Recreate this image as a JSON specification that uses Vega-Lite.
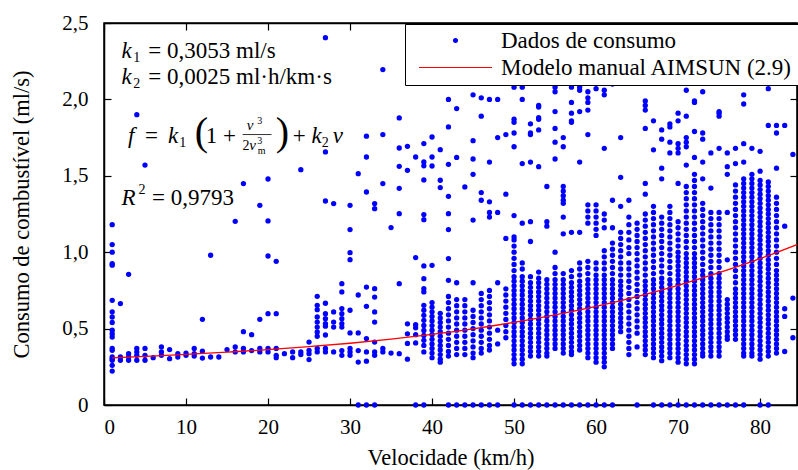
{
"$schema":"https://vega.github.io/schema/vega-lite/v6.json",
"width":693,"height":382,
"autosize":{"type":"none"},
"padding":{"left":104,"top":23,"right":1,"bottom":65},
"background":"white",
"datasets":{
"pts":[
{"v":1,"c":[1.18,1.05,1.0,0.925,0.915,0.685,0.61,0.576,0.54,0.49,0.467,0.445,0.37,0.358,0.314,0.303,0.293,0.26,0.222]},
{"v":2,"c":[0.664,0.314,0.293]},
{"v":3,"c":[0.855,0.336,0.314,0.293]},
{"v":4,"c":[1.9,0.37,0.347,0.325,0.293]},
{"v":5,"c":[1.57,0.37,0.325,0.293]},
{"v":6,"c":[0.31]},
{"v":7,"c":[0.38,0.347,0.325]},
{"v":8,"c":[0.363,0.303]},
{"v":9,"c":[0.336,0.314]},
{"v":10,"c":[0.34,0.325]},
{"v":11,"c":[0.37,0.336,0.32]},
{"v":12,"c":[0.561,0.352,0.307]},
{"v":13,"c":[0.98,0.314]},
{"v":14,"c":[0.314]},
{"v":15,"c":[0.363]},
{"v":16,"c":[1.202,0.38,0.347]},
{"v":17,"c":[1.449,0.48,0.37,0.347]},
{"v":18,"c":[0.46,0.356]},
{"v":19,"c":[1.307,0.561,0.37,0.347]},
{"v":20,"c":[1.479,1.205,0.975,0.598,0.37,0.347]},
{"v":21,"c":[0.94,0.598,0.37,0.325,0.31]},
{"v":22,"c":[0.336]},
{"v":23,"c":[0.347,0.31]},
{"v":24,"c":[1.54,0.347,0.33]},
{"v":25,"c":[0.412,0.358,0.336,0.297]},
{"v":26,"c":[0.711,0.652,0.624,0.576,0.543,0.51,0.478,0.45,0.37,0.347]},
{"v":27,"c":[2.404,1.656,1.335,0.666,0.598,0.565,0.533,0.516,0.458,0.37,0.347]},
{"v":28,"c":[1.318,0.609,0.543,0.51,0.347]},
{"v":29,"c":[0.794,0.74,0.631,0.598,0.565,0.533,0.51,0.356,0.325]},
{"v":30,"c":[1.307,1.148,0.997,0.951,0.62,0.472,0.37,0.347,0.325]},
{"v":31,"c":[1.514,0.72,0.472,0.356,0.281,0]},
{"v":32,"c":[1.759,1.623,1.394,0.772,0.646,0.435,0.347,0.287,0]},
{"v":33,"c":[1.318,1.285,0.761,0.706,0.609,0.543,0.412,0.347,0.325,0]},
{"v":34,"c":[2.195,1.77,1.449,0.37,0.347]},
{"v":35,"c":[1.161,0.34]},
{"v":36,"c":[1.879,1.682,1.562,1.418,1.252,0.794,0.336]},
{"v":37,"c":[1.693,1.536,0.531,0.466,0.403,0.3]},
{"v":38,"c":[1.623,0.965,0.526,0.505,0.46,0.406,0]},
{"v":39,"c":[1.711,1.591,1.565,1.473,1.246,1.213,0.91,0.827,0.761,0.74,0.652,0.62,0.587,0.554,0.521,0.488,0.455,0.423,0.39,0.347,0]},
{"v":40,"c":[1.754,1.623,1.564,0.914,0.67,0.64,0.61,0.58,0.55,0.52,0.49,0.46,0.43,0.40,0.37,0.34,0.31]},
{"v":41,"c":[1.671,1.471,1.423,0.60,0.57,0.54,0.51,0.48,0.45,0.42,0.39,0.36,0.33,0.30,0.28]},
{"v":42,"c":[2.0,1.82,1.575,1.366,1.252,1.148,0.958,0.816,0.71,0.67,0.63,0.59,0.55,0.51,0.47,0.43,0.39,0.35,0.32,0]},
{"v":43,"c":[1.94,1.62,0.80,0.69,0.65,0.61,0.57,0.53,0.49,0.45,0.41,0.37,0.33,0]},
{"v":44,"c":[1.427,0.69,0.65,0.61,0.57,0.53,0.49,0.45,0.41,0.37,0.33,0]},
{"v":45,"c":[2.03,1.73,1.61,1.51,1.21,0.80,0.62,0.58,0.54,0.50,0.46,0.42,0.38,0.34,0.31,0]},
{"v":46,"c":[2.01,1.89,1.39,1.34,0.73,0.69,0.65,0.61,0.57,0.53,0.49,0.45,0.41,0.37,0.34,0]},
{"v":47,"c":[2.0,1.59,1.33,1.26,1.23,0.75,0.71,0.67,0.63,0.59,0.55,0.51,0.47,0.43,0.39,0.36,0]},
{"v":48,"c":[2.0,1.75,1.26,0.80,0.49,0.40,0]},
{"v":49,"c":[1.77,1.38,1.09,0.76,0.72,0.68,0.64,0.60,0.56,0.52,0.48,0.44]},
{"v":50,"c":[2.08,1.87,1.85,1.78,1.69,1.24,1.10,1.08,1.04,1.0,0.96,0.92,0.88,0.84,0.81,0.78,0.75,0.72,0.69,0.66,0.63,0.60,0.57,0.54,0.51,0.48,0.45,0.42,0.39,0.36,0.33,0.30,0.27,0]},
{"v":51,"c":[2.08,2.0,1.58,1.19,0.93,0.89,0.84,0.81,0.78,0.75,0.72,0.69,0.66,0.63,0.60,0.57,0.54,0.51,0.48,0.45,0.42,0.39,0.36,0.33,0.30,0.27,0]},
{"v":52,"c":[1.84,1.78,1.77,1.59,1.20,1.07,0.84,0.80,0.77,0.74,0.71,0.68,0.65,0.62,0.59,0.56,0.53,0.50,0.47,0.44,0.41,0.38,0.35,0.32,0]},
{"v":53,"c":[1.96,1.95,1.88,1.87,1.80,1.56,0.87,0.83,0.80,0.77,0.74,0.71,0.68,0.65,0.62,0.59,0.56,0.53,0.50,0.47,0.44,0.41,0.38,0.35,0.32,0]},
{"v":54,"c":[1.43,1.20,1.17,0.82,0.79,0.76,0.73,0.70,0.67,0.64,0.61,0.58,0.55,0.52,0.49,0.46,0.43,0.40,0.37,0.34,0.32,0]},
{"v":55,"c":[2.08,2.05,1.92,1.81,1.72,1.61,1.00,0.90,0.86,0.82,0.79,0.76,0.73,0.70,0.67,0.64,0.61,0.58,0.55,0.52,0.49,0.46,0.43,0.40,0.37,0]},
{"v":56,"c":[1.75,1.69,1.43,1.40,1.37,1.34,1.32,1.23,1.12,0.86,0.82,0.79,0.76,0.73,0.70,0.67,0.64,0.61,0.58,0.55,0.52,0.49,0.46,0.43,0.40,0.37,0.34,0]},
{"v":57,"c":[2.08,1.98,1.91,1.86,1.85,1.13,0.88,0.84,0.80,0.77,0.74,0.71,0.68,0.65,0.62,0.59,0.56,0.53,0.50,0.47,0.44,0.41,0.38,0.35,0.33,0]},
{"v":58,"c":[2.08,2.06,1.92,1.59,1.13,0.93,0.89,0.85,0.81,0.78,0.75,0.72,0.69,0.66,0.63,0.60,0.57,0.54,0.51,0.48,0.45,0.42,0.39,0.36,0]},
{"v":59,"c":[2.05,2.01,1.98,1.93,1.77,1.31,1.27,1.23,1.19,0.94,0.90,0.86,0.82,0.79,0.76,0.73,0.70,0.67,0.64,0.61,0.58,0.55,0.52,0.49,0.46,0.43,0.40,0.37,0.34,0.31,0]},
{"v":60,"c":[2.07,1.31,1.27,1.23,1.19,1.15,1.11,0.93,0.89,0.85,0.82,0.79,0.76,0.73,0.70,0.67,0.64,0.61,0.58,0.55,0.52,0.49,0.46,0.43,0.40,0.37,0.34,0.31,0.28,0]},
{"v":61,"c":[2.06,2.03,1.68,1.25,1.21,1.16,1.01,0.97,0.93,0.89,0.85,0.82,0.79,0.76,0.73,0.70,0.67,0.64,0.61,0.58,0.55,0.52,0.49,0.46,0.43,0.40,0.37,0.34,0.31,0.28,0.25,0]},
{"v":62,"c":[2.10,1.34,1.16,1.06,1.02,0.98,0.94,0.90,0.86,0.82,0.79,0.76,0.73,0.70,0.67,0.64,0.61,0.58,0.55,0.52,0.49,0.46,0.43,0.40,0.37,0]},
{"v":63,"c":[1.75,1.49,1.30,1.13,1.09,1.05,1.01,0.97,0.93,0.89,0.85,0.81,0.78,0.75,0.72,0.69,0.66,0.63,0.60,0.57,0.54,0.51,0.48]},
{"v":64,"c":[1.34,1.23,1.18,1.13,1.08,1.03,0.99,0.93,0.89,0.85,0.81,0.77,0.73,0.69,0.65,0.61,0.57,0.53,0.49,0.45,0.41,0.37,0.33]},
{"v":65,"c":[1.19,1.15,1.11,1.07,1.03,0.99,0.95,0.91,0.87,0.83,0.79,0.75,0.71,0.67,0.63,0.59,0.55,0.51,0.47,0.38,0]},
{"v":66,"c":[1.99,1.96,1.93,1.81,1.45,1.38,1.25,1.21,1.17,1.13,1.09,1.05,1.01,0.97,0.93,0.89,0.85,0.81,0.78,0.75,0.72,0.69,0.66,0.63,0.60,0.57,0.54,0.51,0.48,0.45,0.42,0.39,0.36,0.33]},
{"v":67,"c":[1.86,1.67,1.30,1.26,1.22,1.18,1.14,1.10,1.06,1.02,0.98,0.94,0.90,0.86,0.82,0.79,0.76,0.73,0.70,0.67,0.64,0.61,0.58,0.55,0.52,0.49,0.46,0.43,0.40,0.37,0.34,0.31,0]},
{"v":68,"c":[1.80,1.74,1.55,1.48,1.23,1.19,1.15,1.11,1.07,1.03,0.99,0.95,0.91,0.87,0.83,0.80,0.77,0.74,0.71,0.68,0.65,0.62,0.59,0.56,0.53,0.50,0.47,0.44,0.41,0.38,0.35,0.32,0.29,0]},
{"v":69,"c":[1.84,1.82,1.72,1.65,1.30,1.26,1.22,1.18,1.14,1.10,1.06,1.02,0.98,0.94,0.90,0.86,0.82,0.79,0.76,0.73,0.70,0.67,0.64,0.61,0.58,0.55,0.52,0.49,0.46,0.43,0.40,0.37,0.34,0.31,0]},
{"v":70,"c":[1.91,1.86,1.71,1.68,1.65,1.45,1.20,1.16,1.12,1.08,1.04,1.00,0.97,0.94,0.91,0.88,0.85,0.82,0.79,0.76,0.73,0.70,0.67,0.64,0.61,0.58,0.55,0.52,0.49,0.46,0.43,0.40,0.37,0.34,0.31,0.28,0]},
{"v":71,"c":[2.06,1.89,1.75,1.72,1.69,1.57,1.43,1.39,1.35,1.31,1.27,1.23,1.19,1.15,1.11,1.07,1.03,0.99,0.96,0.93,0.90,0.87,0.84,0.81,0.78,0.75,0.72,0.69,0.66,0.63,0.60,0.57,0.54,0.51,0.48,0.45,0.42,0.39,0.36,0.33,0.30,0.27,0]},
{"v":72,"c":[1.99,1.98,1.79,1.62,1.51,1.47,1.43,1.39,1.35,1.31,1.27,1.23,1.19,1.15,1.11,1.07,1.03,0.99,0.96,0.93,0.90,0.87,0.84,0.81,0.78,0.75,0.72,0.69,0.66,0.63,0.60,0.57,0.54,0.51,0.48,0.45,0.42,0.39,0.36,0.33,0.30,0.27,0]},
{"v":73,"c":[2.05,1.78,1.74,1.59,1.48,1.32,1.28,1.24,1.20,1.16,1.12,1.08,1.04,1.00,0.96,0.92,0.88,0.85,0.82,0.79,0.76,0.73,0.70,0.67,0.64,0.61,0.58,0.55,0.52,0.49,0.46,0.43,0.40,0.37,0.34,0.32,0]},
{"v":74,"c":[1.65,1.42,1.26,1.22,1.18,1.14,1.10,1.06,1.02,0.98,0.94,0.90,0.86,0.83,0.80,0.77,0.74,0.71,0.68,0.65,0.62,0.59,0.56,0.53,0.50,0.47,0.44,0.41,0.38,0.35,0.32,0]},
{"v":75,"c":[1.92,1.91,1.89,1.68,1.26,1.22,1.18,1.14,1.10,1.06,1.02,0.98,0.94,0.90,0.86,0.83,0.80,0.77,0.74,0.71,0.68,0.65,0.62,0.59,0.56,0.53,0.50,0.47,0.44,0.41,0.38,0.35,0.32,0]},
{"v":76,"c":[1.65,1.56,1.51,1.26,0.95,0.69,0.66,0.63,0.60,0.57,0.54,0.51,0.48,0.45,0.43,0]},
{"v":77,"c":[1.68,1.58,1.44,1.40,1.36,1.32,1.28,1.24,1.20,1.16,1.12,1.08,1.04,1.00,0.96,0.92,0.88,0.84,0.80,0.76,0.73,0.70,0.67,0.64,0.61,0.58,0.55,0.52,0.49,0.46,0.43,0]},
{"v":78,"c":[2.03,1.97,1.71,1.59,1.48,1.45,1.42,1.39,1.36,1.33,1.30,1.27,1.24,1.21,1.18,1.15,1.12,1.09,1.06,1.03,1.00,0.97,0.94,0.91,0.88,0.85,0.82,0.79,0.76,0.73,0.70,0.67,0.64,0.61,0.58,0.55,0.52,0.49,0.46,0.43,0.40,0.37,0.34,0.32,0]},
{"v":79,"c":[1.68,1.51,1.48,1.45,1.42,1.39,1.36,1.33,1.30,1.27,1.24,1.21,1.18,1.15,1.12,1.09,1.06,1.03,1.00,0.97,0.94,0.91,0.88,0.85,0.82,0.79,0.76,0.73,0.70,0.67,0.64,0.61,0.58,0.55,0.52,0.49,0.46,0.43,0.40,0.37,0.34,0.32]},
{"v":80,"c":[1.66,1.53,1.47,1.44,1.41,1.38,1.35,1.32,1.29,1.26,1.23,1.20,1.17,1.14,1.11,1.08,1.05,1.02,0.99,0.96,0.93,0.90,0.87,0.84,0.81,0.78,0.75,0.72,0.69,0.66,0.63,0.60,0.57,0.54,0.51,0.48,0.45,0.42,0.39,0.36,0.33,0.30,0]},
{"v":81,"c":[2.07,1.83,1.46,1.43,1.40,1.37,1.34,1.31,1.28,1.25,1.22,1.19,1.16,1.13,1.10,1.07,1.04,1.01,0.98,0.95,0.92,0.89,0.86,0.83,0.80,0.77,0.74,0.71,0.68,0.65,0.62,0.59,0.56,0.53,0.50,0.47,0.44,0.41,0.38,0.35,0.32,0]},
{"v":82,"c":[1.83,1.78,1.55,1.36,1.32,1.28,1.24,1.20,1.16,1.12,1.08,1.04,1.00,0.96,0.92,0.88,0.85,0.82,0.79,0.76,0.73,0.70,0.67,0.64,0.61,0.58,0.55,0.52,0.49,0.46,0.43,0.40,0.37,0.34]},
{"v":83,"c":[1.83,1.17,0.63,0.58,0.35]},
{"v":84,"c":[1.64,0.70,0.44]}
],
"model":[{"v":1,"f":0.308},{"v":5,"f":0.318},{"v":10,"f":0.331},{"v":15,"f":0.346},{"v":20,"f":0.362},{"v":25,"f":0.382},{"v":30,"f":0.404},{"v":35,"f":0.431},{"v":40,"f":0.462},{"v":45,"f":0.498},{"v":50,"f":0.541},{"v":55,"f":0.59},{"v":60,"f":0.646},{"v":65,"f":0.71},{"v":70,"f":0.783},{"v":75,"f":0.866},{"v":80,"f":0.958},{"v":84.5,"f":1.05}],
"r23":[{"x":5.4,"y":2.272,"t":"= 0,3053 ml/s"},{"x":5.4,"y":2.102,"t":"= 0,0025 ml·h/km·s"},{"x":4.99,"y":1.716,"t":"="},{"x":12.42,"y":1.716,"t":"1 +"},{"x":23.0,"y":1.716,"t":"+"},{"x":5.85,"y":1.307,"t":"= 0,9793"}],
"i23":[{"x":2.13,"y":2.272,"t":"k"},{"x":2.13,"y":2.102,"t":"k"},{"x":2.92,"y":1.716,"t":"f"},{"x":7.8,"y":1.716,"t":"k"},{"x":25.3,"y":1.716,"t":"k"},{"x":27.9,"y":1.716,"t":"v"},{"x":2.13,"y":1.307,"t":"R"}],
"r14":[{"x":3.57,"y":2.245,"t":"1"},{"x":3.57,"y":2.075,"t":"2"},{"x":9.17,"y":1.689,"t":"1"},{"x":26.55,"y":1.689,"t":"2"},{"x":4.2,"y":1.383,"t":"2"},{"x":16.89,"y":1.667,"t":"2"}],
"i14":[{"x":17.42,"y":1.798,"t":"v"},{"x":17.72,"y":1.667,"t":"v"}],
"r10":[{"x":18.7,"y":1.837,"t":"3"},{"x":18.7,"y":1.706,"t":"3"},{"x":18.76,"y":1.641,"t":"m"}],
"par":[{"x":11.08,"y":1.7,"t":"("},{"x":20.95,"y":1.7,"t":")"}],
"bar":[{"x":16.9,"x2":20.43,"y":1.77}]
},
"resolve":{"axis":{"x":"independent","y":"independent"}},
"layer":[
{"data":{"name":"pts"},"transform":[{"flatten":["c"]}],
"mark":{"type":"circle","size":28,"opacity":1},
"encoding":{
"x":{"field":"v","type":"quantitative","scale":{"domain":[0,84.5],"nice":false,"zero":false},
"axis":{"values":[0,10,20,30,40,50,60,70,80],"title":"Velocidade (km/h)","labelPadding":18,"titlePadding":9}},
"y":{"field":"c","type":"quantitative","scale":{"domain":[0,2.5],"nice":false},
"axis":{"values":[0,0.5,1,1.5,2,2.5],"title":"Consumo de combustível (ml/s)","labelPadding":23,"titlePadding":28,"labelExpr":"datum.value == 0 ? '0' : replace(format(datum.value, '.1f'), '.', ',')"}},
"color":{"datum":"Dados de consumo","type":"nominal",
"scale":{"domain":["Dados de consumo","Modelo manual AIMSUN (2.9)"],"range":["#0000ff","#ff0000"]},
"legend":{"orient":"none","legendX":301,"legendY":1,"title":null,"strokeColor":"black","fillColor":"white","padding":5,
"labelFont":"Liberation Serif","labelFontSize":23,"labelColor":"black","labelLimit":0,
"symbolSize":100,"symbolOffset":34,"labelOffset":34,"rowPadding":3,
"encoding":{"symbols":{
"shape":{"value":{"expr":"datum.value === 'Dados de consumo' ? 'circle' : 'M-7.3,0H7.3'"}},
"size":{"value":{"expr":"datum.value === 'Dados de consumo' ? 16 : 100"}},
"fill":{"value":{"expr":"datum.value === 'Dados de consumo' ? '#0000ff' : 'transparent'"}},
"stroke":{"value":{"expr":"datum.value === 'Dados de consumo' ? '#0000ff' : '#ff0000'"}},
"strokeWidth":{"value":1.2},"opacity":{"value":1}}}}}
}},
{"data":{"name":"model"},
"mark":{"type":"line","strokeWidth":1.3,"interpolate":"monotone","color":"#ff0000"},
"encoding":{
"x":{"field":"v","type":"quantitative","axis":{"orient":"top","values":[0,10,20,30,40,50,60,70,80],"labels":false,"title":null}},
"y":{"field":"f","type":"quantitative","axis":{"orient":"right","values":[0,0.5,1,1.5,2,2.5],"labels":false,"title":null}}}},
{"data":{"name":"r23"},"mark":{"type":"text","align":"left","baseline":"alphabetic","font":"Liberation Serif","fontSize":23,"color":"black"},
"encoding":{"x":{"field":"x","type":"quantitative","axis":null},"y":{"field":"y","type":"quantitative","axis":null},"text":{"field":"t"}}},
{"data":{"name":"i23"},"mark":{"type":"text","align":"left","baseline":"alphabetic","font":"Liberation Serif","fontStyle":"italic","fontSize":23,"color":"black"},
"encoding":{"x":{"field":"x","type":"quantitative","axis":null},"y":{"field":"y","type":"quantitative","axis":null},"text":{"field":"t"}}},
{"data":{"name":"r14"},"mark":{"type":"text","align":"left","baseline":"alphabetic","font":"Liberation Serif","fontSize":14,"color":"black"},
"encoding":{"x":{"field":"x","type":"quantitative","axis":null},"y":{"field":"y","type":"quantitative","axis":null},"text":{"field":"t"}}},
{"data":{"name":"i14"},"mark":{"type":"text","align":"left","baseline":"alphabetic","font":"Liberation Serif","fontStyle":"italic","fontSize":15,"color":"black"},
"encoding":{"x":{"field":"x","type":"quantitative","axis":null},"y":{"field":"y","type":"quantitative","axis":null},"text":{"field":"t"}}},
{"data":{"name":"r10"},"mark":{"type":"text","align":"left","baseline":"alphabetic","font":"Liberation Serif","fontSize":10,"color":"black"},
"encoding":{"x":{"field":"x","type":"quantitative","axis":null},"y":{"field":"y","type":"quantitative","axis":null},"text":{"field":"t"}}},
{"data":{"name":"par"},"mark":{"type":"text","align":"left","baseline":"alphabetic","font":"Liberation Serif","fontSize":40,"color":"black"},
"encoding":{"x":{"field":"x","type":"quantitative","axis":null},"y":{"field":"y","type":"quantitative","axis":null},"text":{"field":"t"}}},
{"data":{"name":"bar"},"mark":{"type":"rule","color":"black","strokeWidth":0.8},
"encoding":{"x":{"field":"x","type":"quantitative","axis":null},"x2":{"field":"x2"},"y":{"field":"y","type":"quantitative","axis":null}}}
],
"config":{
"view":{"stroke":"black","strokeWidth":1.5},
"font":"Liberation Serif",
"axis":{"labelFont":"Liberation Serif","labelFontSize":21,"labelColor":"black","titleFont":"Liberation Serif","titleFontSize":22.5,"titleFontWeight":"normal","titleColor":"black","domainColor":"black","domainWidth":1.5,"tickColor":"black","tickWidth":1.2,"tickSize":-7,"grid":false}
}
}
